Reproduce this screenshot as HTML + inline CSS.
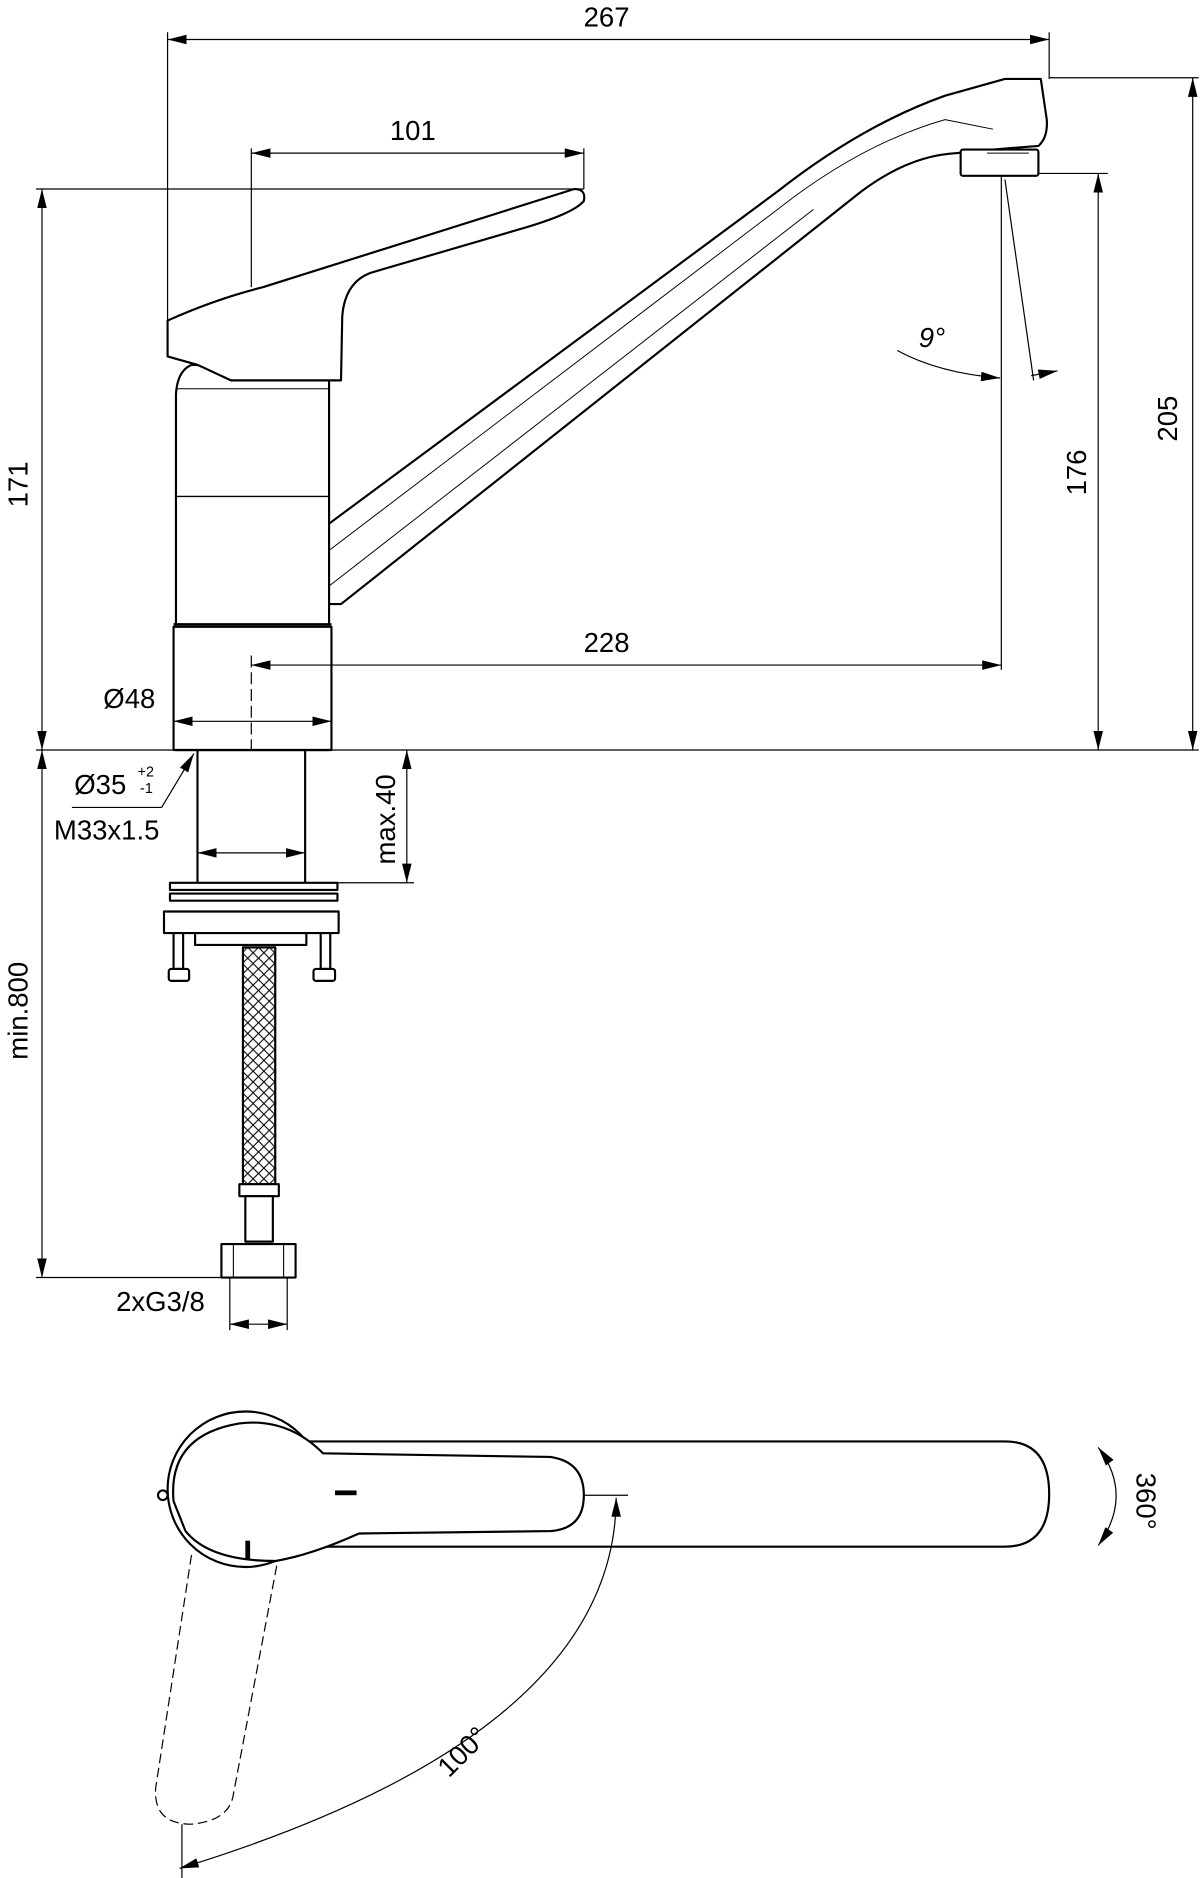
<!DOCTYPE html>
<html><head><meta charset="utf-8"><style>
html,body{margin:0;padding:0;background:#fff}
svg{display:block}
text{font-family:"Liberation Sans",sans-serif;fill:#000}
</style></head><body>
<svg width="1200" height="1878" viewBox="0 0 1003 1570" xmlns="http://www.w3.org/2000/svg">
<defs>
<marker id="a" viewBox="0 0 16 8" refX="16" refY="4" markerWidth="16" markerHeight="8" orient="auto-start-reverse" markerUnits="userSpaceOnUse"><path d="M0,0L16,4L0,8z" fill="#000"/></marker>
<pattern id="braid" width="9" height="9" patternUnits="userSpaceOnUse"><rect width="9" height="9" fill="#fff"/><path d="M0,0L9,9M9,0L0,9" stroke="#000" stroke-width="0.9"/></pattern>
</defs>
<g stroke="#000" fill="none" stroke-width="1">
<line x1="140" y1="33" x2="877" y2="33" marker-start="url(#a)" marker-end="url(#a)"/>
<line x1="140" y1="27" x2="140" y2="268"/>
<line x1="877" y1="27" x2="877" y2="66"/>
<line x1="210" y1="128" x2="488" y2="128" marker-start="url(#a)" marker-end="url(#a)"/>
<line x1="210" y1="124" x2="210" y2="240"/>
<line x1="488" y1="124" x2="488" y2="158"/>
<line x1="30" y1="158" x2="488" y2="158"/>
<line x1="35" y1="158" x2="35" y2="627" marker-start="url(#a)" marker-end="url(#a)"/>
<line x1="877" y1="65" x2="1002" y2="65"/>
<line x1="997" y1="65" x2="997" y2="627" marker-start="url(#a)" marker-end="url(#a)"/>
<line x1="840" y1="145" x2="926" y2="145"/>
<line x1="918" y1="145" x2="918" y2="627" marker-start="url(#a)" marker-end="url(#a)"/>
<line x1="30" y1="627" x2="1002" y2="627"/>
<line x1="837" y1="145" x2="837" y2="560"/>
<line x1="840" y1="150" x2="864" y2="318"/>
<path d="M750,293 Q785,312 836,316" marker-end="url(#a)"/>
<path d="M862,314 L884,310" marker-end="url(#a)"/>
<line x1="340" y1="627" x2="340" y2="738" marker-start="url(#a)" marker-end="url(#a)"/>
<line x1="280" y1="738" x2="346" y2="738"/>
<line x1="35" y1="627" x2="35" y2="1068" marker-start="url(#a)" marker-end="url(#a)"/>
<line x1="30" y1="1068" x2="245" y2="1068"/>
<line x1="192" y1="1068" x2="192" y2="1112"/>
<line x1="240" y1="1068" x2="240" y2="1112"/>
<line x1="192" y1="1107" x2="240" y2="1107" marker-start="url(#a)" marker-end="url(#a)"/>
</g>

<g stroke="#000" fill="#fff" stroke-width="1.8" stroke-linejoin="round">
<path d="M258,462 L272,440 L650,160 Q720,105 790,80 L840,66 L870,66 L875,100 Q876,115 868,122 L830,125 L800,128 Q760,130 720,160 L285,505 L258,505 Z"/>
<path d="M262,470 L650,175 Q720,120 790,100 L830,108" fill="none" stroke-width="0.8"/>
<path d="M262,500 L680,175" fill="none" stroke-width="0.8"/>
<rect x="803" y="125" width="65" height="22" rx="2"/>
<line x1="825" y1="128" x2="860" y2="128" stroke-width="0.8"/>
<path d="M147,627 L147,330 Q148,310 160,305 L275,310 L275,627 Z"/>
<line x1="147" y1="325" x2="275" y2="325" stroke-width="0.9"/>
<line x1="147" y1="415" x2="275" y2="415" stroke-width="1.1"/>
<line x1="145" y1="522" x2="277" y2="522" stroke-width="2.2"/>
<rect x="145" y="524" width="132" height="103"/>
<path d="M140,268 Q180,250 220,240 L480,158 Q490,158 488,168 Q480,178 440,190 L310,228 Q288,236 286,265 L285,318 L193,318 L165,305 L140,298 Z"/>
<line x1="165" y1="627" x2="165" y2="740"/>
<line x1="255" y1="627" x2="255" y2="740"/>
<rect x="142" y="738" width="140" height="6"/>
<rect x="142" y="747" width="140" height="6"/>
<rect x="137" y="762" width="146" height="18"/>
<rect x="163" y="780" width="93" height="10"/>
<rect x="145" y="780" width="8" height="30"/>
<rect x="141" y="810" width="17" height="10" rx="2"/>
<rect x="268" y="780" width="8" height="30"/>
<rect x="262" y="810" width="18" height="10" rx="2"/>
<rect x="203" y="792" width="27" height="198" fill="url(#braid)"/>
<rect x="200" y="990" width="33" height="10"/>
<rect x="205" y="1000" width="23" height="38"/>
<rect x="185" y="1040" width="62" height="28"/>
<line x1="195" y1="1040" x2="195" y2="1068" stroke-width="0.9"/>
<line x1="237" y1="1040" x2="237" y2="1068" stroke-width="0.9"/>
</g>

<!-- dims drawn on top of body -->
<g stroke="#000" fill="none" stroke-width="1">
<line x1="210" y1="556" x2="837" y2="556" marker-start="url(#a)" marker-end="url(#a)"/>
<line x1="210" y1="548" x2="210" y2="627" stroke-dasharray="10,4"/>
<line x1="145" y1="603" x2="277" y2="603" marker-start="url(#a)" marker-end="url(#a)"/>
<line x1="165" y1="713" x2="255" y2="713" marker-start="url(#a)" marker-end="url(#a)"/>
<polyline points="135,675 60,675"/>
<line x1="135" y1="675" x2="162" y2="630" marker-end="url(#a)"/>
</g>

<!-- top view -->
<g stroke="#000" fill="#fff" stroke-width="1.8">
<path d="M250,1205 L840,1205 Q877,1205 877,1249 Q877,1293 840,1293 L250,1293 Z"/>
<circle cx="205" cy="1245" r="65"/>
<path d="M145,1255 Q140,1200 200,1190 Q240,1185 270,1215 L460,1218 Q488,1222 488,1250 Q488,1278 460,1280 L300,1282 Q260,1300 230,1305 Q175,1305 155,1280 Z"/>
<rect x="280" y="1246" width="18" height="4" fill="#000" stroke="none"/>
<rect x="205" y="1288" width="4" height="16" fill="#000" stroke="none"/>
<circle cx="136" cy="1250" r="4"/>
</g>
<g stroke="#000" fill="none" stroke-width="1">
<path d="M160,1300 L130,1495 Q128,1525 160,1525 Q192,1522 195,1500 L232,1305" stroke-dasharray="8,4"/>
<line x1="488" y1="1250" x2="525" y2="1250"/>
<path d="M515,1252 Q515,1450 150,1562" marker-start="url(#a)" marker-end="url(#a)"/>
<line x1="152" y1="1525" x2="152" y2="1570"/>
<path d="M918,1210 Q948,1250 918,1292" marker-start="url(#a)" marker-end="url(#a)"/>
</g>

<g font-size="23">
<text x="507" y="22" text-anchor="middle">267</text>
<text x="345" y="117" text-anchor="middle">101</text>
<text x="507" y="545" text-anchor="middle">228</text>
<text x="108" y="592" text-anchor="middle">Ø48</text>
<text x="62" y="664">Ø35</text>
<text x="115" y="649" font-size="12">+2</text>
<text x="117" y="663" font-size="12">-1</text>
<text x="45" y="702">M33x1.5</text>
<text x="97" y="1096">2xG3/8</text>
<text x="768" y="290" font-style="italic">9°</text>
<text transform="translate(23,405) rotate(-90)" text-anchor="middle">171</text>
<text transform="translate(984,350) rotate(-90)" text-anchor="middle">205</text>
<text transform="translate(908,395) rotate(-90)" text-anchor="middle">176</text>
<text transform="translate(330,685) rotate(-90)" text-anchor="middle">max.40</text>
<text transform="translate(23,845) rotate(-90)" text-anchor="middle">min.800</text>
<text transform="translate(950,1255) rotate(90)" text-anchor="middle">360°</text>
<text transform="translate(392,1470) rotate(-45)" text-anchor="middle">100°</text>
</g>
</svg>
</body></html>
